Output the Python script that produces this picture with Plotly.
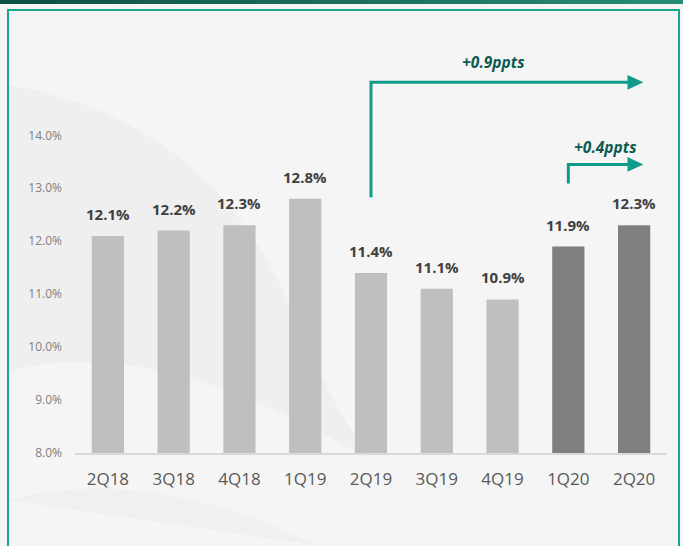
"""Quarterly ratio bar chart, 2Q18 - 2Q20."""

import plotly.graph_objects as go

quarters = ["2Q18", "3Q18", "4Q18", "1Q19", "2Q19", "3Q19", "4Q19", "1Q20", "2Q20"]
ratio = [12.1, 12.2, 12.3, 12.8, 11.4, 11.1, 10.9, 11.9, 12.3]
highlight = [False, False, False, False, False, False, False, True, True]
y_ticks = [8, 9, 10, 11, 12, 13, 14]
y_tick_text = ["8.0%", "9.0%", "10.0%", "11.0%", "12.0%", "13.0%", "14.0%"]
arrow_labels = ["+0.9ppts", "+0.4ppts"]

W, H = 683, 546
L, R, T, B = 75, 16, 40, 93
TEAL = "#0f9a8a"


def px(x, y):
    """Pixel position -> paper coords."""
    return (x - L) / (W - L - R), (H - B - y) / (H - T - B)


def path(points, closes=True):
    out = []
    for cmd, pts in points:
        coords = " ".join("%.4f,%.4f" % px(*p) for p in pts)
        out.append(cmd + " " + coords)
    return " ".join(out) + (" Z" if closes else "")


colors = ["#7f7f7f" if h else "#bfbfbf" for h in highlight]

fig = go.Figure()
fig.add_trace(
    go.Bar(
        x=quarters,
        y=ratio,
        marker=dict(color=colors, line=dict(width=0)),
        width=0.49,
        hoverinfo="skip",
    )
)

shapes = []
# background swooshes
shapes.append(dict(
    type="path", xref="paper", yref="paper", layer="below", line=dict(width=0),
    fillcolor="#efefef",
    path=path([("M", [(8, 85)]), ("Q", [(220, 120), (300, 330)]),
               ("Q", [(330, 400), (370, 460)]), ("Q", [(150, 330), (8, 372)])]),
))
shapes.append(dict(
    type="path", xref="paper", yref="paper", layer="below", line=dict(width=0),
    fillcolor="#f0f0f0",
    path=path([("M", [(8, 500)]), ("Q", [(120, 470), (260, 520)]),
               ("L", [(320, 546), (8, 546)])]),
))
# top band gradient
n = 24
c0, c1 = (15, 80, 70), (40, 140, 116)
for i in range(n):
    t = i / (n - 1)
    col = "rgb(%d,%d,%d)" % tuple(int(a + (b - a) * t) for a, b in zip(c0, c1))
    x0, y0 = px(i * W / n, 0)
    x1, y1 = px((i + 1) * W / n + 1, 4)
    shapes.append(dict(type="rect", xref="paper", yref="paper", layer="below",
                       x0=x0, x1=x1, y0=y0, y1=y1, fillcolor=col, line=dict(width=0)))
# framing box
bx0, by0 = px(8, 10)
bx1, by1 = px(679, 560)
shapes.append(dict(type="rect", xref="paper", yref="paper", layer="below",
                   x0=bx0, x1=bx1, y0=by1, y1=by0,
                   line=dict(color="#1aa593", width=2), fillcolor="rgba(0,0,0,0)"))

# arrows (data coords)
for xs, ys, ye in [(4, 12.83, 15.0), (7, 13.09, 13.45)]:
    shapes.append(dict(type="path", xref="x", yref="y", line=dict(color=TEAL, width=3),
                       path="M %s,%s L %s,%s L 7.92,%s" % (xs, ys, xs, ye, ye)))
    shapes.append(dict(type="path", xref="x", yref="y", line=dict(width=0),
                       fillcolor=TEAL,
                       path="M 7.9,%s L 8.14,%s L 7.9,%s Z" % (ye + 0.14, ye, ye - 0.14)))

annotations = []
for q, v in zip(quarters, ratio):
    annotations.append(dict(
        x=q, y=v, text="<b>%.1f%%</b>" % v, showarrow=False, yanchor="bottom",
        yshift=10, font=dict(size=15, color="#404040", family="Open Sans"),
    ))
for lab, x, y in zip(arrow_labels, [5.86, 7.56], [15.38, 13.77]):
    annotations.append(dict(
        x=x, y=y, text="<b><i>%s</i></b>" % lab, showarrow=False,
        font=dict(size=15.5, color="#0d5b50", family="Open Sans"),
    ))

fig.update_layout(
    width=W,
    height=H,
    margin=dict(l=L, r=R, t=T, b=B, autoexpand=False),
    paper_bgcolor="#f5f5f5",
    plot_bgcolor="rgba(0,0,0,0)",
    showlegend=False,
    shapes=shapes,
    annotations=annotations,
    font=dict(family="Open Sans"),
)
fig.update_xaxes(
    showline=True,
    linecolor="#d9d9d9",
    linewidth=2,
    ticks="",
    tickfont=dict(size=17, color="#595959"),
    ticklabelstandoff=10,
    range=[-0.5, 8.5],
)
fig.update_yaxes(
    range=[8, 15.8],
    tickvals=y_ticks,
    ticktext=y_tick_text,
    showgrid=False,
    zeroline=False,
    tickfont=dict(size=12, color="#7f7f7f"),
    ticklabelstandoff=12,
)

fig.write_html(
    "out.html",
    config={"displayModeBar": False},
    post_script="document.body.style.margin='0';document.body.style.padding='0';",
)
